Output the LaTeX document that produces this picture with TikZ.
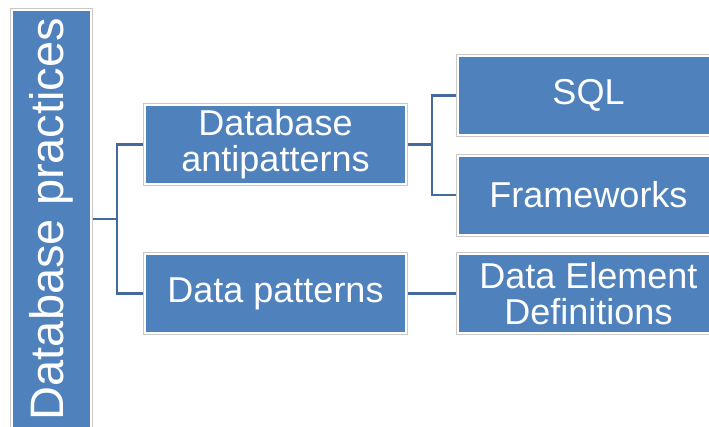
\documentclass[tikz,border=0pt]{standalone}
\usepackage{fontspec}
\setmainfont{Liberation Sans}
\usetikzlibrary{backgrounds}
\definecolor{boxblue}{HTML}{4F81BD}
\definecolor{linkblue}{HTML}{45699A}
\definecolor{rimgray}{HTML}{C8C8C8}
\tikzset{
  card/.style={rectangle, inner sep=0pt, fill=boxblue, draw=white, line width=2pt,
    preaction={draw=rimgray, line width=4pt},
    text=white, align=center, font=\fontsize{36}{36}\selectfont},
  link/.style={draw=linkblue, line width=2.5pt},
}
\begin{document}
\begin{tikzpicture}[x=1pt, y=-1pt]
  \useasboundingbox (0,0) rectangle (709,426);
  % root column
  \node[card, minimum width=79pt, minimum height=418pt] (root) at (51.5,219) {};
  \node[rotate=90, text=white, font=\fontsize{47}{47}\selectfont] (roottext) at (root.center) {Database practices};
  % second level
  \node[card, minimum width=261pt, minimum height=79pt] (anti) at (275.5,144.5) {Database\\antipatterns};
  \node[card, minimum width=261pt, minimum height=79pt] (dp) at (275.5,293.5) {Data patterns};
  % third level
  \node[card, minimum width=261pt, minimum height=79pt] (sql) at (588.5,95.5) {SQL};
  \node[card, minimum width=261pt, minimum height=79pt] (fw) at (588.5,195) {Frameworks};
  \node[card, minimum width=261pt, minimum height=79pt] (ded) at (588.5,293.5) {Data Element\\Definitions};
  % connectors
  \coordinate (j1) at (117,219);
  \coordinate (j2) at (432,144.5);
  \begin{scope}[on background layer]
    \draw[link] (root.east) -- (j1);
    \draw[link] (anti.west) -| (j1) |- (dp.west);
    \draw[link] (anti.east) -- (j2);
    \draw[link] (sql.west) -| (j2) |- (fw.west);
    \draw[link] (dp.east) -- (ded.west);
  \end{scope}
\end{tikzpicture}
\end{document}
